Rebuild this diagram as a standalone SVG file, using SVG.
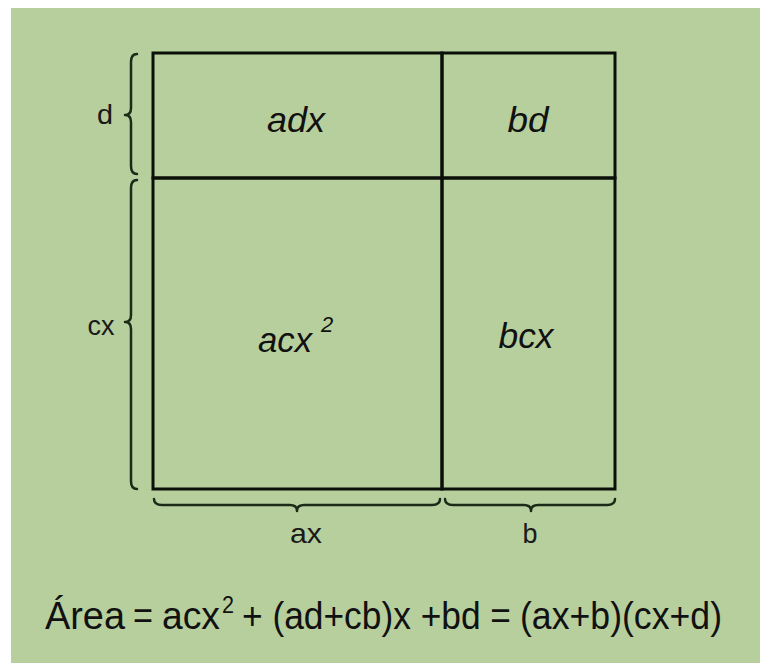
<svg xmlns="http://www.w3.org/2000/svg" width="760" height="663" viewBox="0 0 760 663">
<style>
.bg{fill:#b6cf9d}
.box{fill:none;stroke:#0a0f08;stroke-width:3}
.brace{fill:none;stroke:#1c2a18;stroke-width:2.5;stroke-linejoin:round;stroke-linecap:round}
.lbl{font-family:"Liberation Sans",Arial,sans-serif;font-size:28px;fill:#1a1a1a}
.cell{font-family:"Liberation Sans",Arial,sans-serif;font-size:35px;font-style:italic;fill:#111}
.sup{font-family:"Liberation Sans",Arial,sans-serif;font-size:22px;font-style:italic;fill:#111}
.eq{font-family:"Liberation Sans",Arial,sans-serif;font-size:38px;fill:#111}
.eqs{font-family:"Liberation Sans",Arial,sans-serif;font-size:23px;fill:#111}
</style>
<rect x="0" y="0" width="760" height="663" fill="#ffffff"/>
<rect class="bg" x="11" y="8" width="749" height="655"/>
<g id="cells">
<g id="cell-adx"><rect class="box" x="153" y="53" width="289" height="125"/><text class="cell" x="296" y="132" text-anchor="middle" textLength="58" lengthAdjust="spacingAndGlyphs">adx</text></g>
<g id="cell-bd"><rect class="box" x="442" y="53" width="173" height="125"/><text class="cell" x="528" y="132" text-anchor="middle" textLength="41" lengthAdjust="spacingAndGlyphs">bd</text></g>
<g id="cell-acx2"><rect class="box" x="153" y="178" width="289" height="311"/><text class="cell" x="258" y="352" textLength="54" lengthAdjust="spacingAndGlyphs">acx</text><text class="sup" x="321" y="332">2</text></g>
<g id="cell-bcx"><rect class="box" x="442" y="178" width="173" height="311"/><text class="cell" x="526" y="348" text-anchor="middle" textLength="55" lengthAdjust="spacingAndGlyphs">bcx</text></g>
</g>
<g id="connectors">
<path class="brace" d="M137 54 Q131 54 131 62 L131 108 Q131 115 125 115 Q131 115 131 122 L131 166 Q131 174 137 174"/>
<path class="brace" d="M137 180 Q131 180 131 188 L131 315 Q131 322 125 322 Q131 322 131 329 L131 481 Q131 489 137 489"/>
<path class="brace" d="M154 499 Q154 505 162 505 L290 505 Q297 505 297 511 Q297 505 304 505 L432 505 Q440 505 440 499"/>
<path class="brace" d="M445 499 Q445 505 453 505 L524 505 Q531 505 531 511 Q531 505 538 505 L607 505 Q615 505 615 499"/>
</g>
<g id="labels">
<text class="lbl" x="105" y="124" text-anchor="middle" textLength="16" lengthAdjust="spacingAndGlyphs">d</text>
<text class="lbl" x="101" y="335" text-anchor="middle" textLength="27" lengthAdjust="spacingAndGlyphs">cx</text>
<text class="lbl" x="306" y="543" text-anchor="middle" textLength="32" lengthAdjust="spacingAndGlyphs">ax</text>
<text class="lbl" x="530" y="543" text-anchor="middle" textLength="15" lengthAdjust="spacingAndGlyphs">b</text>
</g>
<g id="formula">
<text class="eq" x="45" y="629" textLength="80" lengthAdjust="spacingAndGlyphs">Área</text>
<text class="eq" x="133" y="629" textLength="20" lengthAdjust="spacingAndGlyphs">=</text>
<text class="eq" x="162" y="629" textLength="58" lengthAdjust="spacingAndGlyphs">acx</text>
<text class="eqs" x="222" y="613" textLength="12" lengthAdjust="spacingAndGlyphs">2</text>
<text class="eq" x="242" y="629" textLength="269" lengthAdjust="spacingAndGlyphs">+ (ad+cb)x +bd =</text>
<text class="eq" x="520" y="629" textLength="202" lengthAdjust="spacingAndGlyphs">(ax+b)(cx+d)</text>
</g>
</svg>
